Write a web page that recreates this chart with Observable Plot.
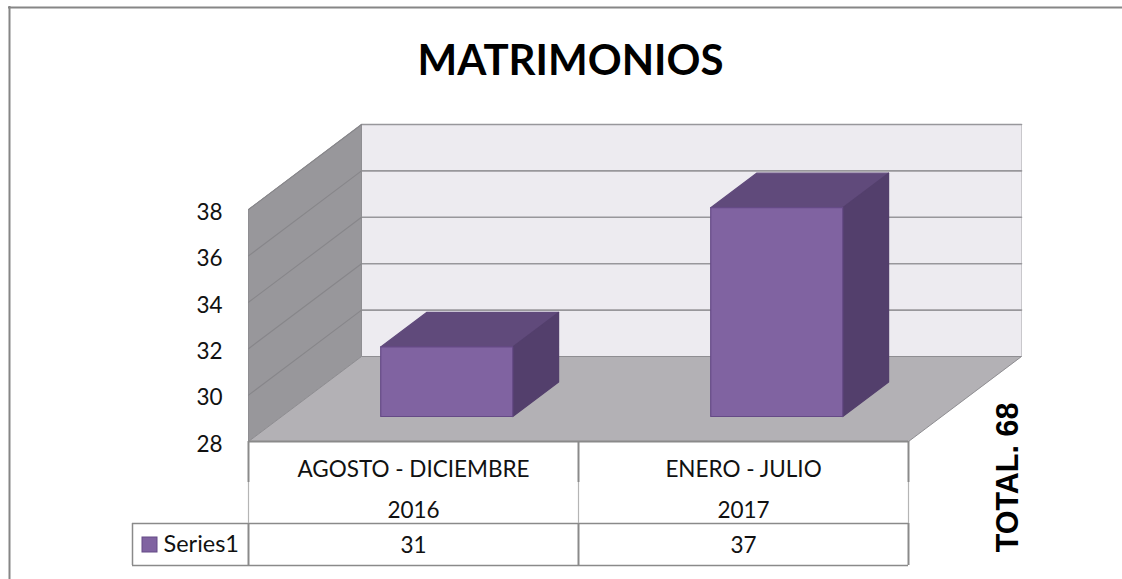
<!DOCTYPE html>
<html>
<head>
<meta charset="utf-8">
<style>html,body{margin:0;padding:0;background:#fff}svg{display:block}</style>
<script src="https://cdn.jsdelivr.net/npm/d3@7"></script>
<script src="https://cdn.jsdelivr.net/npm/@observablehq/plot@0.6"></script>
</head>
<body>
<div id="chart"></div>
<script>
const categories = ["AGOSTO - DICIEMBRE", "ENERO - JULIO"];
const years = ["2016", "2017"];
const values = [31, 37];
const yTicks = [28, 30, 32, 34, 36, 38];
const seriesName = "Series1";
const titleText = "MATRIMONIOS";
const totalText = "TOTAL. 68";

// Layout of the oblique projection, in the scales' units
const W = 1122, H = 579;
const left = 248, right = 908, top_ = 209, floorY = 441;
const pxPerUnit = (floorY - top_) / 10;
const pxPerSlot = (right - left) / 2;
const depthX = 113 / pxPerSlot, depthY = 85 / pxPerUnit;   // full depth of the chart box
const barZ0 = 0.294, barZ1 = 0.70, barInset = 0.3, barWidth = 0.4;

const px2y = (py) => 28 - (py - floorY) / pxPerUnit;
const px2x = (px) => (px - left) / pxPerSlot;
const P = (s, v, z = 0) => ({x: s + z * depthX, y: v + z * depthY});

const wallC = "#98979b", backC = "#edebf0", floorC = "#b3b1b5";
const frontC = "#8063a1", topC = "#604a7b", sideC = "#533f6c";
const tableC = "#8a8a8a", frameC = "#868686";

let faces = [];
const face = (id, fill, stroke, pts) => pts.forEach(p => faces.push({id, fill, stroke, ...p}));

face("back", backC, "#c9c8cc", [P(0, 28, 1), P(2, 28, 1), P(2, 38, 1), P(0, 38, 1), P(0, 28, 1)]);
face("wall", wallC, "#8f8e92", [P(0, 28, 0), P(0, 28, 1), P(0, 38, 1), P(0, 38, 0), P(0, 28, 0)]);
face("floor", floorC, "#8f8e92", [P(0, 28, 0), P(2, 28, 0), P(2, 28, 1), P(0, 28, 1), P(0, 28, 0)]);

values.forEach((v, i) => {
  const a = i + barInset, b = a + barWidth;
  face("top" + i, topC, topC, [P(a, v, barZ0), P(b, v, barZ0), P(b, v, barZ1), P(a, v, barZ1), P(a, v, barZ0)]);
  face("side" + i, sideC, sideC, [P(b, 28, barZ0), P(b, 28, barZ1), P(b, v, barZ1), P(b, v, barZ0), P(b, 28, barZ0)]);
  face("front" + i, frontC, "#654a86", [P(a, 28, barZ0), P(b, 28, barZ0), P(b, v, barZ0), P(a, v, barZ0), P(a, 28, barZ0)]);
});

// Gridlines: on the back wall and slanted on the side wall
const gridTicks = yTicks.slice(1);
const backGrid = gridTicks.flatMap(t => [{id: "b" + t, ...P(0, t, 1)}, {id: "b" + t, ...P(2, t, 1)}]);
const wallGrid = gridTicks.flatMap(t => [{id: "w" + t, ...P(0, t, 0)}, {id: "w" + t, ...P(0, t, 1)}]);

const isBar = d => /^(top|side|front)/.test(d.id);

const rowTop = px2y(441), rowLabel = px2y(523), rowData = px2y(565);
const xSplit = [0, 1, 2];
const legendX = px2x(132);

const plot = Plot.plot({
  width: W, height: H,
  marginLeft: left, marginRight: W - right, marginTop: top_, marginBottom: H - floorY,
  x: {domain: [0, 2], axis: null},
  y: {domain: [28, 38], axis: null},
  style: {background: "#fff", fontFamily: "Lato, 'Noto Sans', sans-serif"},
  marks: [
    // Outer frame: only top and left edges are in view
    Plot.ruleY([px2y(7)], {x1: px2x(8), x2: px2x(W), stroke: frameC, strokeWidth: 2}),
    Plot.ruleX([px2x(9)], {y1: px2y(6), y2: px2y(H), stroke: frameC, strokeWidth: 2}),

    Plot.line(faces.filter(d => !isBar(d)), {x: "x", y: "y", z: "id", fill: "fill", stroke: "stroke", strokeWidth: 1, curve: "linear"}),
    Plot.line(backGrid, {x: "x", y: "y", z: "id", stroke: "#98979b", strokeWidth: 1.6}),
    Plot.line(wallGrid, {x: "x", y: "y", z: "id", stroke: "#87868a", strokeWidth: 1.1}),
    Plot.line(faces.filter(isBar), {x: "x", y: "y", z: "id", fill: "fill", stroke: "stroke", strokeWidth: 1.2, curve: "linear"}),

    // Value axis
    Plot.axisY({ticks: yTicks, tickSize: 0, tickPadding: 26, fontSize: 22.5, fill: "#111", dy: 3, anchor: "left", label: null}),

    // Table grid
    Plot.ruleY([rowTop], {x1: 0, x2: 2, stroke: tableC, strokeWidth: 2}),
    Plot.ruleY([rowLabel], {x1: 0, x2: 2, stroke: tableC, strokeWidth: 1.5}),
    Plot.ruleY([rowData], {x1: legendX, x2: 2, stroke: tableC, strokeWidth: 1.5}),
    Plot.ruleY([rowLabel], {x1: legendX, x2: 0, stroke: tableC, strokeWidth: 1.5}),
    Plot.ruleX(xSplit, {y1: rowTop, y2: px2y(482), stroke: tableC, strokeWidth: 2}),
    Plot.ruleX(xSplit, {y1: px2y(482), y2: rowLabel, stroke: "#b5b5b5", strokeWidth: 1.2}),
    Plot.ruleX(xSplit, {y1: rowLabel, y2: rowData, stroke: tableC, strokeWidth: 2}),
    Plot.ruleX([legendX], {y1: rowLabel, y2: rowData, stroke: tableC, strokeWidth: 1.5}),

    // Table text
    Plot.text(categories, {x: (d, i) => i + 0.5, y: px2y(469), text: d => d, fontSize: 22.5, fill: "#111"}),
    Plot.text(years, {x: (d, i) => i + 0.5, y: px2y(510), text: d => d, fontSize: 22.5, fill: "#111"}),
    Plot.text(values, {x: (d, i) => i + 0.5, y: px2y(545), text: d => String(d), fontSize: 22.5, fill: "#111"}),
    Plot.text([seriesName], {x: px2x(163), y: px2y(544), text: d => d, textAnchor: "start", fontSize: 23.5, fill: "#111"}),
    Plot.rect([seriesName], {x1: px2x(142), x2: px2x(157), y1: px2y(552), y2: px2y(537), fill: frontC, stroke: "#654a86", strokeWidth: 1}),

    // Title and side note
    Plot.text([titleText], {x: px2x(570), y: px2y(61), text: d => d, fontSize: 42, fontWeight: 700, fill: "#000"}),
    Plot.text([totalText], {x: px2x(1008), y: px2y(477), text: d => d, rotate: -90, fontSize: 30.5, fontWeight: 700, fill: "#000", fontFamily: "'Liberation Sans', Arial, sans-serif"})
  ]
});
document.getElementById("chart").appendChild(plot);
</script>
</body>
</html>
